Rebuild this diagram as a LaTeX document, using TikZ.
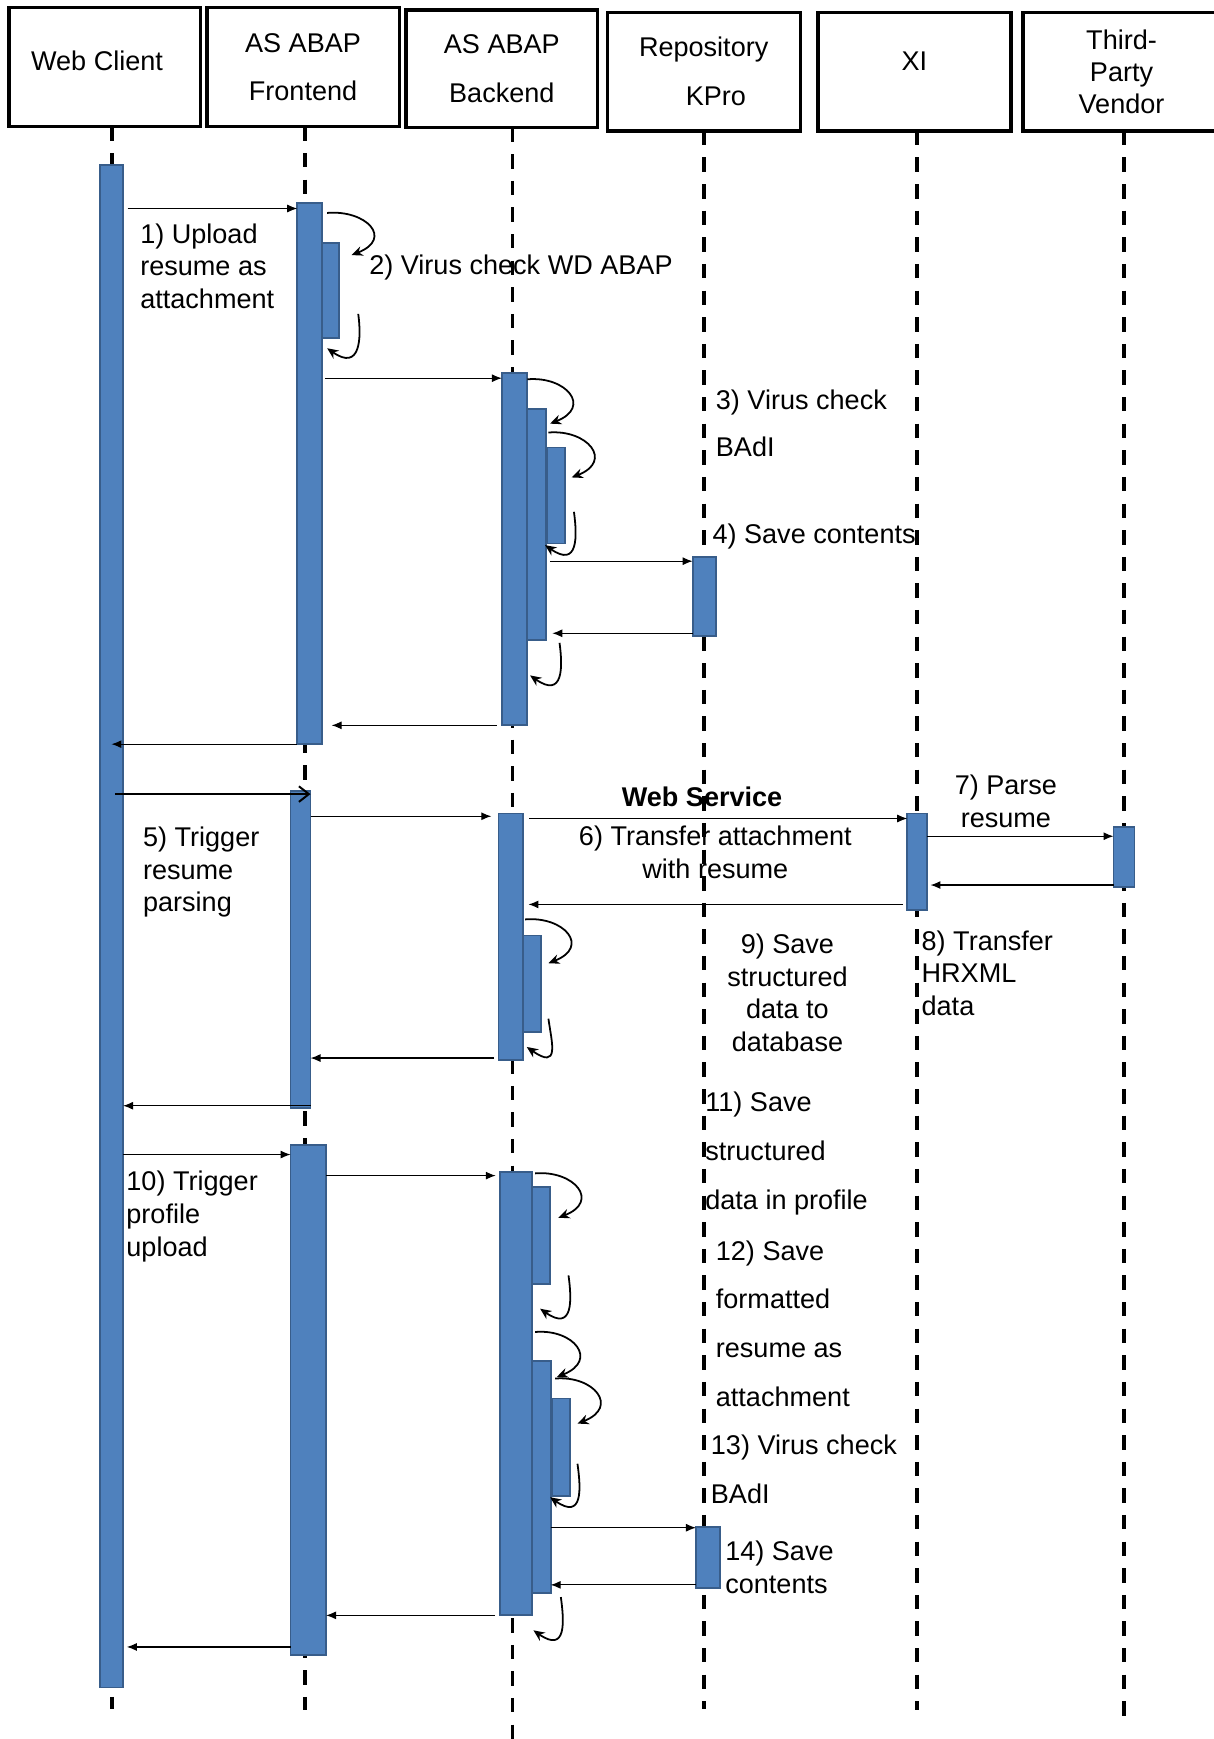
\documentclass[tikz,border=0pt]{standalone}
\usepackage{fontspec}
\setmainfont{Liberation Sans}
\usepackage{xcolor}
\usetikzlibrary{arrows.meta,positioning,fit}
\definecolor{barfill}{HTML}{4F81BD}
\definecolor{barline}{HTML}{385D8A}

\begin{document}
\begin{tikzpicture}[
  x=0.5pt,y=-0.5pt,
  every node/.style={inner sep=0pt,outer sep=0pt,font=\fontsize{12.2}{14.75}\selectfont},
  head/.style={draw,line width=1.5pt,align=center,minimum width=86.5pt,minimum height=53.5pt,
    font=\fontsize{12.2}{22}\selectfont},
  life/.style={line width=1.6pt,dash pattern=on 6.5pt off 5.5pt},
  actbar/.style={draw=barline,fill=barfill,line width=0.8pt},
  msg/.style={-{Latex[length=4.5pt,width=3.6pt]},line width=0.5pt},
  trigger/.style={-{Straight Barb[length=4.5pt,width=7pt]},line width=0.9pt},
  selfcall/.style={-{Stealth[length=5pt,width=4.4pt]},line width=0.8pt},
  note/.style={align=left,anchor=north west},
  notec/.style={align=center,anchor=north},
  wideline/.style={font=\fontsize{12.2}{22}\selectfont}
]
\useasboundingbox (0,0) rectangle (1094,1568);

% lifeline heads
\node[head,text depth=5.5pt] (web) at (94.5,60.5) {Web Client\hspace*{7pt}};
\node[head,minimum width=86.75pt,text depth=-4pt] (fe) at (273.25,60.5) {AS ABAP\\Frontend};
\node[head,minimum height=53pt] (be) at (452.5,62) {AS ABAP\\Backend};
\node[head,minimum width=87pt] (repo) at (634.5,64.5) {Repository\\\hspace*{11pt}KPro};
\node[head,minimum width=87pt,text depth=9pt] (xi) at (824.5,64.5) {XI};
\node[head,minimum width=88.75pt,text depth=-4pt,font=\fontsize{12.2}{14.5}\selectfont] (tpv) at (1011.25,64.5) {Third-\\Party\\Vendor};

% step labels
\node[note] (l1) at (126.5,201.5) {1) Upload\\resume as\\attachment};
\node[note] (l2) at (333,230) {2) Virus check WD ABAP};
\node[note,font=\fontsize{12.2}{21}\selectfont] (l3) at (645.5,352) {3) Virus check\\BAdI};
\node[note] (l4) at (642.5,472) {4) Save contents};
\node[note] (l5) at (129,745.5) {5) Trigger\\resume\\parsing};
\node[notec,font=\fontsize{12.2}{14.75}\selectfont\bfseries] (ws) at (633,709.5) {Web Service};
\node[notec] (l6) at (645,745) {6) Transfer attachment\\with resume};
\node[notec] (l7) at (907,698.5) {7) Parse\\resume};
\node[note] (l8) at (831,839) {8) Transfer\\HRXML\\data};
\node[notec] (l9) at (710,842) {9) Save\\structured\\data to\\database};
\node[note] (l10) at (114,1056) {10) Trigger\\profile\\upload};
\node[note,wideline] (l11) at (636,984.5) {11) Save\\structured\\data in profile};
\node[note,wideline] (l12) at (645.5,1118.5) {12) Save\\formatted\\resume as\\attachment};
\node[note,wideline] (l13) at (641,1294) {13) Virus check\\BAdI};
\node[note] (l14) at (654,1389.5) {14) Save\\contents};

% lifelines
\coordinate (webend) at (101,1541);
\coordinate (feend) at (275,1542);
\coordinate (beend) at (462.3,1572);
\coordinate (repoend) at (634.6,1541);
\coordinate (xiend) at (826.7,1542);
\coordinate (tpvend) at (1013.6,1548);
\draw[life] (webend |- web.south) -- (webend);
\draw[life] (feend |- fe.south) -- (feend);
\draw[life] (beend |- be.south) -- (beend);
\draw[life] (repoend |- repo.south) -- (repoend);
\draw[life] (xiend |- xi.south) -- (xiend);
\draw[life] (tpvend |- tpv.south) -- (tpvend);

% activation bars
\node[actbar,fit={(90,149) (111,1521.5)}] (wcbar) {};
\node[actbar,fit={(268,183) (290.5,671)}] (fe1) {};
\node[actbar,fit={(290.5,219) (306,305)}] (fe1a) {};
\node[actbar,fit={(452.5,336.5) (475.5,654)}] (be1) {};
\node[actbar,fit={(475.5,369) (492.5,577)}] (be1b) {};
\node[actbar,fit={(493.5,403.5) (509.5,490)}] (be1c) {};
\node[actbar,fit={(624.5,502.5) (645.5,573.5)}] (rp1) {};
\node[actbar,fit={(262,713) (280,999)}] (fe2) {};
\node[actbar,fit={(449.5,733.5) (471.5,956)}] (be2) {};
\node[actbar,fit={(471.5,843.5) (487.5,930.5)}] (be2b) {};
\node[actbar,fit={(818,733.5) (835.5,820.5)}] (xi1) {};
\node[actbar,fit={(1004,746) (1023,799.5)}] (tv1) {};
\node[actbar,fit={(262,1032.5) (294,1492.5)}] (fe3) {};
\node[actbar,fit={(451,1056.5) (479.5,1456.5)}] (be3) {};
\node[actbar,fit={(479.5,1070) (496,1158)}] (be3a) {};
\node[actbar,fit={(479.5,1227) (496.5,1436.5)}] (be3b) {};
\node[actbar,fit={(498,1261) (514,1349)}] (be3c) {};
\node[actbar,fit={(627.5,1376.5) (649.5,1431.5)}] (rp2) {};

% messages
\draw[msg,shorten <=2pt] (wcbar.east |- 0,188) -- (fe1.west |- 0,188);
\draw[msg,shorten <=1.25pt] (fe1.east |- 0,341) -- (be1.west |- 0,341);
\draw[msg,shorten <=1.75pt] (be1b.east |- 0,506) -- (rp1.west |- 0,506);
\draw[msg,shorten >=2.75pt] (rp1.west |- 0,571) -- (be1b.east |- 0,571);
\draw[msg,shorten <=2.25pt,shorten >=4.25pt] (be1.west |- 0,654) -- (fe1.east |- 0,654);
\draw[msg] (fe1.south west) -- (wcbar.center |- fe1.south west);
\draw[trigger,shorten <=1.5pt] (wcbar.center |- 0,716) -- (fe2.east |- 0,716);
\draw[msg,shorten >=3.25pt] (fe2.east |- 0,736) -- (be2.west |- 0,736);
\draw[msg,shorten <=2.75pt] (be2.east |- 0,738) -- (xi1.west |- 0,738);
\draw[msg] (xi1.east |- 0,754) -- (tv1.west |- 0,754);
\draw[msg,shorten >=1.75pt] (tv1.west |- 0,798) -- (xi1.east |- 0,798);
\draw[msg,shorten <=1.8pt,shorten >=2.5pt] (xi1.west |- 0,815.5) -- (be2.east |- 0,815.5);
\draw[msg,shorten <=2pt] (be2.west |- 0,954) -- (fe2.east |- 0,954);
\draw[msg] (fe2.east |- 0,997) -- (wcbar.east |- 0,997);
\draw[msg] (wcbar.east |- 0,1041) -- (fe3.west |- 0,1041);
\draw[msg,shorten >=2pt] (fe3.east |- 0,1060) -- (be3.west |- 0,1060);
\draw[msg] (be3b.east |- 0,1377.5) -- (rp2.west |- 0,1377.5);
\draw[msg] (rp2.west |- 0,1429) -- (be3b.east |- 0,1429);
\draw[msg,shorten <=2.3pt] (be3.west |- 0,1456.5) -- (fe3.east |- 0,1456.5);
\draw[msg,shorten >=1.7pt] (fe3.west |- 0,1485) -- (wcbar.east |- 0,1485);

% self calls
\draw[selfcall] ([shift={(4.5,9)}]fe1.north east) .. controls +(35,-3) and +(38,-15) .. ([shift={(11,11)}]fe1a.north east);
\draw[selfcall] ([shift={(17,-22)}]fe1a.south east) .. controls +(3,22) and +(30,21) .. ([shift={(-11,9)}]fe1a.south east);
\draw[selfcall] ([shift={(0,5.5)}]be1.north east) .. controls +(35,-3) and +(38,-15) .. ([shift={(3.5,13)}]be1b.north east);
\draw[selfcall] ([shift={(2,21)}]be1b.north east) .. controls +(35,-3) and +(38,-15) .. ([shift={(6,27)}]be1c.north east);
\draw[selfcall] ([shift={(8,-28.5)}]be1c.south east) .. controls +(3,22) and +(30,21) .. ([shift={(-2,1.5)}]be1c.south west);
\draw[selfcall] ([shift={(12,2.6)}]be1b.south east) .. controls +(3,22) and +(30,21) .. ([shift={(2.5,32)}]be1b.south west);
\draw[selfcall] ([shift={(2,-14.5)}]be2b.north west) .. controls +(35,-3) and +(38,-15) .. ([shift={(7,25)}]be2b.north east);
\draw[selfcall] ([shift={(7,-12)}]be2b.south east) .. controls +(3,22) and +(30,21) .. ([shift={(3.5,13.5)}]be2b.south west);
\draw[selfcall] ([shift={(3,1.5)}]be3.north east) .. controls +(35,-3) and +(38,-15) .. ([shift={(7.5,28)}]be3a.north east);
\draw[selfcall] ([shift={(16.6,-8)}]be3a.south east) .. controls +(3,22) and +(30,21) .. ([shift={(7.5,22)}]be3a.south west);
\draw[selfcall] ([shift={(3,-26)}]be3b.north west) .. controls +(35,-3) and +(38,-15) .. ([shift={(5.5,14.6)}]be3b.north east);
\draw[selfcall] ([shift={(4,16)}]be3b.north east) .. controls +(35,-3) and +(38,-15) .. ([shift={(6.7,22.6)}]be3c.north east);
\draw[selfcall] ([shift={(6.7,-29.2)}]be3c.south east) .. controls +(3,22) and +(30,21) .. ([shift={(-2,1)}]be3c.south west);
\draw[selfcall] ([shift={(9.2,3.5)}]be3b.south east) .. controls +(3,22) and +(30,21) .. ([shift={(1.5,33.5)}]be3b.south west);
\end{tikzpicture}
\end{document}
